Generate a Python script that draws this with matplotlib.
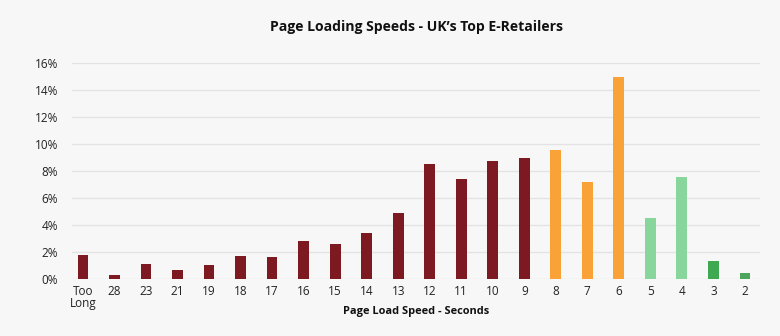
import matplotlib
matplotlib.use("Agg")
import matplotlib.pyplot as plt
from matplotlib.ticker import FuncFormatter, MultipleLocator

plt.rcParams['font.family'] = ['Open Sans', 'DejaVu Sans']

categories = ["Too\nLong", "28", "23", "21", "19", "18", "17", "16", "15", "14", "13",
              "12", "11", "10", "9", "8", "7", "6", "5", "4", "3", "2"]
share_pct = [1.77, 0.34, 1.13, 0.66, 1.06, 1.72, 1.65, 2.83, 2.61, 3.40, 4.92,
             8.52, 7.43, 8.76, 8.99, 9.53, 7.21, 14.94, 4.50, 7.56, 1.38, 0.49]
speed_band = ["slow"] * 15 + ["medium"] * 3 + ["fast"] * 2 + ["fastest"] * 2

band_colors = {"slow": "#7d1a21", "medium": "#f8a238", "fast": "#88d69c", "fastest": "#3fa951"}
colors = [band_colors[b] for b in speed_band]
colors[-1] = "#4ca55b"

bg = "#f7f7f7"
fig = plt.figure(figsize=(7.8, 3.36), dpi=100, facecolor=bg)
ax = fig.add_axes([72 / 780, 1 - 279.3 / 336, (760 - 72) / 780, (279.3 - 62.7) / 336])
ax.set_facecolor(bg)

x = range(len(categories))
ax.bar(x, share_pct, width=0.34, color=colors, zorder=3)

ax.set_xlim(-0.35, len(categories) - 1 + 0.48)
ax.set_ylim(0, 16)
ax.yaxis.set_major_locator(MultipleLocator(2))
ax.yaxis.set_major_formatter(FuncFormatter(lambda v, _: f"{v:.0f}%"))
ax.grid(axis="y", color="#e3e3e3", linewidth=1.0, zorder=0)
for s in ax.spines.values():
    s.set_visible(False)
ax.tick_params(axis="both", length=0, labelsize=8.5, colors="#222222")
ax.tick_params(axis="y", pad=10)
ax.tick_params(axis="x", pad=4)
ax.set_xticks(list(x))
ax.set_xticklabels(categories, linespacing=0.95)

fig.text(416 / 780, 1 - 26.7 / 336, "Page Loading Speeds - UK\u2019s Top E-Retailers",
         ha="center", va="center", fontsize=10.1, fontweight="bold", color="#111111")
fig.text(416 / 780, 1 - 311.7 / 336, "Page Load Speed - Seconds",
         ha="center", va="center", fontsize=7.9, fontweight="bold", color="#111111")

fig.savefig("out.png", dpi=100, facecolor=bg)
